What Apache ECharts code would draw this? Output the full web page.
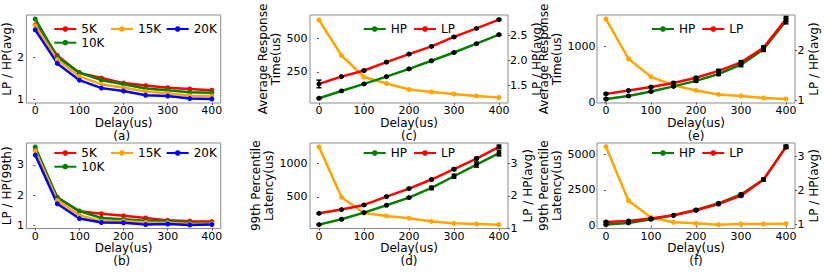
<!DOCTYPE html>
<html><head><meta charset="utf-8">
<script src="https://cdn.jsdelivr.net/npm/echarts@6/dist/echarts.min.js"></script>
<style>html,body{margin:0;padding:0;background:#fff}#c{width:830px;height:277px}</style>
</head><body><div id="c"></div>
<script>
const delays = [0, 50, 100, 150, 200, 250, 300, 350, 400];
const delayTicks = [0, 100, 200, 300, 400];
// (a) LP / HP (avg)
const a5K  = [2.78, 2.05, 1.63, 1.51, 1.39, 1.33, 1.28, 1.25, 1.22];
const a10K = [2.92, 2.01, 1.64, 1.46, 1.36, 1.26, 1.22, 1.17, 1.16];
const a15K = [2.76, 1.95, 1.55, 1.36, 1.28, 1.19, 1.15, 1.09, 1.08];
const a20K = [2.66, 1.86, 1.46, 1.27, 1.20, 1.10, 1.08, 1.02, 1.01];
// (b) LP / HP (99th)
const b5K  = [3.50, 1.93, 1.46, 1.38, 1.31, 1.24, 1.16, 1.13, 1.12];
const b10K = [3.60, 1.91, 1.47, 1.24, 1.20, 1.15, 1.13, 1.08, 1.07];
const b15K = [3.47, 1.82, 1.33, 1.13, 1.14, 1.09, 1.08, 1.04, 1.05];
const b20K = [3.33, 1.71, 1.22, 1.09, 1.08, 1.02, 1.04, 1.01, 1.02];
// (c) average response time
const cHP = [55, 109, 161, 215, 272, 332, 393, 458, 525];
const cLP = [161, 215, 260, 322, 381, 438, 508, 571, 636];
const cHPerr = [4, 4, 4, 4, 4, 4, 4, 4, 5];
const cLPerr = [28, 5, 6, 5, 5, 5, 5, 5, 6];
const cRatio = [2.81, 2.10, 1.67, 1.54, 1.42, 1.37, 1.33, 1.29, 1.26];
// (d) 99th percentile latency
const dHP = [85, 165, 265, 374, 489, 633, 808, 983, 1152];
const dLP = [254, 310, 379, 504, 624, 759, 913, 1073, 1247];
const dHPerr = [8, 8, 8, 10, 12, 25, 30, 38, 40];
const dLPerr = [8, 8, 8, 10, 10, 12, 15, 15, 25];
const dRatio = [3.52, 1.96, 1.47, 1.38, 1.31, 1.21, 1.15, 1.13, 1.11];
// (e) average response time
const eHP = [63, 118, 197, 289, 387, 510, 676, 952, 1455];
const eLP = [155, 215, 276, 350, 442, 565, 718, 976, 1492];
const eHPerr = [12, 12, 12, 15, 25, 25, 35, 40, 50];
const eLPerr = [12, 12, 12, 15, 20, 25, 30, 35, 45];
const eRatio = [2.62, 1.83, 1.47, 1.30, 1.20, 1.12, 1.09, 1.05, 1.03];
// (f) 99th percentile latency
const fHP = [56, 176, 430, 713, 1090, 1560, 2180, 3234, 5542];
const fLP = [247, 318, 480, 713, 1066, 1510, 2100, 3234, 5542];
const fHPerr = [30, 30, 30, 40, 50, 60, 80, 90, 110];
const fLPerr = [30, 30, 30, 40, 50, 60, 80, 90, 110];
const fRatio = [3.27, 1.70, 1.21, 1.07, 1.04, 1.00, 1.02, 1.02, 1.03];
// axis titles and panel captions
const yTitles = ['LP / HP(avg)', 'LP / HP(99th)', 'Average Response\nTime(us)',
  '99th Percentile\nLatency(us)', 'Average Response\nTime(us)', '99th Percentile\nLatency(us)'];
const ratioTitle = 'LP / HP(avg)';
const captions = ['(a)', '(b)', '(c)', '(d)', '(e)', '(f)'];

const FONT = 'DejaVu Sans';
const FS = 11;     // tick labels
const NFS = 12;    // axis names, legend, captions
const C = {red: '#ff0000', green: '#008000', orange: '#ffa500', blue: '#0000ff'};
const pts = vals => delays.map((d, i) => [d, vals[i]]);
const errPts = (vals, err) => delays.map((d, i) => [d, vals[i], err[i]]);

const cols = [22.7, 310, 597];
const rows = [{top: 15, height: 88}, {top: 143, height: 85.5}];
const grids = [];
for (let r = 0; r < 2; r++) for (let c = 0; c < 3; c++)
  grids.push({left: cols[c], width: 198, top: rows[r].top, height: rows[r].height,
    show: true, borderColor: '#8c8c8c', borderWidth: 1, containLabel: false});
// grid index: 0=a,1=c,2=e,3=b,4=d,5=f

const xAxes = grids.map((g, i) => ({
  type: 'value', gridIndex: i, min: -20, max: 420,
  axisLine: {show: false},
  axisTick: {show: true, customValues: delayTicks, length: 2, lineStyle: {color: '#555'}},
  axisLabel: {customValues: delayTicks, fontSize: FS, color: '#000', fontFamily: FONT, margin: 2,
    hideOverlap: false, showMinLabel: true, showMaxLabel: true},
  splitLine: {show: false},
  name: 'Delay(us)', nameLocation: 'middle', nameGap: i < 3 ? 12 : 13,
  nameTextStyle: {fontSize: NFS, color: '#000', fontFamily: FONT, lineHeight: 12}
}));

function yAx(gi, pos, min, max, ticks, fmt, name, gap, lm) {
  return {
    type: 'value', gridIndex: gi, position: pos, min: min, max: max,
    axisLine: {show: false},
    axisTick: {show: true, customValues: ticks, length: 2, lineStyle: {color: '#555'}},
    axisLabel: {customValues: ticks, fontSize: FS, color: '#000', fontFamily: FONT, margin: lm,
      hideOverlap: false, showMinLabel: true, showMaxLabel: true,
      formatter: fmt || (v => String(v))},
    splitLine: {show: false},
    name: name, nameLocation: 'middle', nameRotate: 90, nameGap: gap,
    nameTextStyle: {fontSize: NFS, color: '#000', fontFamily: FONT,
      lineHeight: name.indexOf('\n') >= 0 ? 13 : 12}
  };
}
const f1 = v => v.toFixed(1);
const yAxes = [
  yAx(0, 'left', 0.915, 3.015, [1, 2], null, yTitles[0], 9, 2.5),               // 0 a
  yAx(3, 'left', 0.89, 3.73, [1, 2, 3], null, yTitles[1], 9, 2.5),              // 1 b
  yAx(1, 'left', 20, 670, [250, 500], null, yTitles[2], 25, 2.5),               // 2 c
  yAx(1, 'right', 1.15, 2.91, [1.5, 2.0, 2.5], f1, ratioTitle, 20, 2),          // 3 c right
  yAx(4, 'left', 27, 1305, [500, 1000], null, yTitles[3], 31, 2.5),             // 4 d
  yAx(4, 'right', 0.99, 3.64, [1, 2, 3], null, ratioTitle, 14, 2.5),            // 5 d right
  yAx(2, 'left', -8, 1563, [0, 1000], null, yTitles[4], 28, 1.5),               // 6 e
  yAx(2, 'right', 0.95, 2.70, [1, 2], null, ratioTitle, 11, 2.5),               // 7 e right
  yAx(5, 'left', -218, 5816, [0, 2500, 5000], null, yTitles[5], 28, 1.5),       // 8 f
  yAx(5, 'right', 0.89, 3.38, [1, 2, 3], null, ratioTitle, 11, 2.5)             // 9 f right
];

const series = [];
function ratioLine(name, color, vals, xi, yi) {
  series.push({type: 'line', name: name, xAxisIndex: xi, yAxisIndex: yi, data: pts(vals),
    symbol: 'circle', symbolSize: 5, showSymbol: true,
    lineStyle: {color: color, width: 2.5}, itemStyle: {color: color}, animation: false});
}
ratioLine('5K', C.red, a5K, 0, 0);
ratioLine('10K', C.green, a10K, 0, 0);
ratioLine('15K', C.orange, a15K, 0, 0);
ratioLine('20K', C.blue, a20K, 0, 0);
ratioLine('5K', C.red, b5K, 3, 1);
ratioLine('10K', C.green, b10K, 3, 1);
ratioLine('15K', C.orange, b15K, 3, 1);
ratioLine('20K', C.blue, b20K, 3, 1);

function errSeries(vals, err, xi, yi) {
  series.push({type: 'custom', xAxisIndex: xi, yAxisIndex: yi, data: errPts(vals, err), z: 5,
    animation: false, silent: true,
    renderItem: function (params, api) {
      const x = api.value(0), y = api.value(1), e = api.value(2);
      const t = api.coord([x, y + e]), b = api.coord([x, y - e]);
      const st = {stroke: '#000', lineWidth: 1.5};
      return {type: 'group', children: [
        {type: 'line', shape: {x1: t[0], y1: t[1], x2: b[0], y2: b[1]}, style: st},
        {type: 'line', shape: {x1: t[0] - 2.5, y1: t[1], x2: t[0] + 2.5, y2: t[1]}, style: st},
        {type: 'line', shape: {x1: b[0] - 2.5, y1: b[1], x2: b[0] + 2.5, y2: b[1]}, style: st}
      ]};
    }});
}
function panel(xi, yl, yr, hp, lp, hpErr, lpErr, ratio) {
  series.push({type: 'line', name: 'ratio', xAxisIndex: xi, yAxisIndex: yr, data: pts(ratio),
    symbol: 'circle', symbolSize: 5, lineStyle: {color: C.orange, width: 2.5},
    itemStyle: {color: C.orange}, animation: false, z: 2});
  series.push({type: 'line', name: 'HP', xAxisIndex: xi, yAxisIndex: yl, data: pts(hp),
    symbol: 'circle', symbolSize: 5, lineStyle: {color: C.green, width: 2.5},
    itemStyle: {color: '#000'}, animation: false, z: 3});
  series.push({type: 'line', name: 'LP', xAxisIndex: xi, yAxisIndex: yl, data: pts(lp),
    symbol: 'circle', symbolSize: 5, lineStyle: {color: C.red, width: 2.5},
    itemStyle: {color: '#000'}, animation: false, z: 3});
  errSeries(hp, hpErr, xi, yl);
  errSeries(lp, lpErr, xi, yl);
}
panel(1, 2, 3, cHP, cLP, cHPerr, cLPerr, cRatio);
panel(4, 4, 5, dHP, dLP, dHPerr, dLPerr, dRatio);
panel(2, 6, 7, eHP, eLP, eHPerr, eLPerr, eRatio);
panel(5, 8, 9, fHP, fLP, fHPerr, fLPerr, fRatio);

const legTS = {fontSize: NFS, color: '#000', fontFamily: FONT};
function leg(data, left, top, orient) {
  return {data: data, left: left, top: top, orient: orient || 'horizontal', padding: 0,
    itemWidth: 22, itemHeight: 7, itemGap: orient === 'vertical' ? 1.7 : 6,
    textStyle: legTS, selectedMode: false, backgroundColor: 'transparent'};
}
const hpLeg = [{name: 'HP', itemStyle: {color: C.green}}, {name: 'LP', itemStyle: {color: C.red}}];
const legends = [
  leg(['5K', '10K'], 53.3, 23, 'vertical'), leg(['15K'], 110, 23), leg(['20K'], 165.7, 23),
  leg(['5K', '10K'], 53.3, 147, 'vertical'), leg(['15K'], 110, 147), leg(['20K'], 165.7, 147),
  leg(hpLeg, 362.7, 23), leg(hpLeg, 362.7, 147),
  leg(hpLeg, 651, 23), leg(hpLeg, 651, 147)
];

const txt = (t, x, y) => ({type: 'text', x: x, y: y,
  style: {text: t, fontSize: NFS, lineHeight: 12, fontFamily: FONT, fill: '#000',
    textAlign: 'center', textVerticalAlign: 'middle'}});
const graphics = [
  txt(captions[0], 121.7, 135.5), txt(captions[2], 409, 135.5), txt(captions[4], 696, 135.5),
  txt(captions[1], 121.7, 261), txt(captions[3], 409, 261), txt(captions[5], 696, 261)
];

const chart = echarts.init(document.getElementById('c'), null, {renderer: 'svg'});
chart.setOption({
  animation: false,
  textStyle: {fontFamily: FONT},
  grid: grids, xAxis: xAxes, yAxis: yAxes, series: series,
  legend: legends, graphic: graphics
});
</script></body></html>
